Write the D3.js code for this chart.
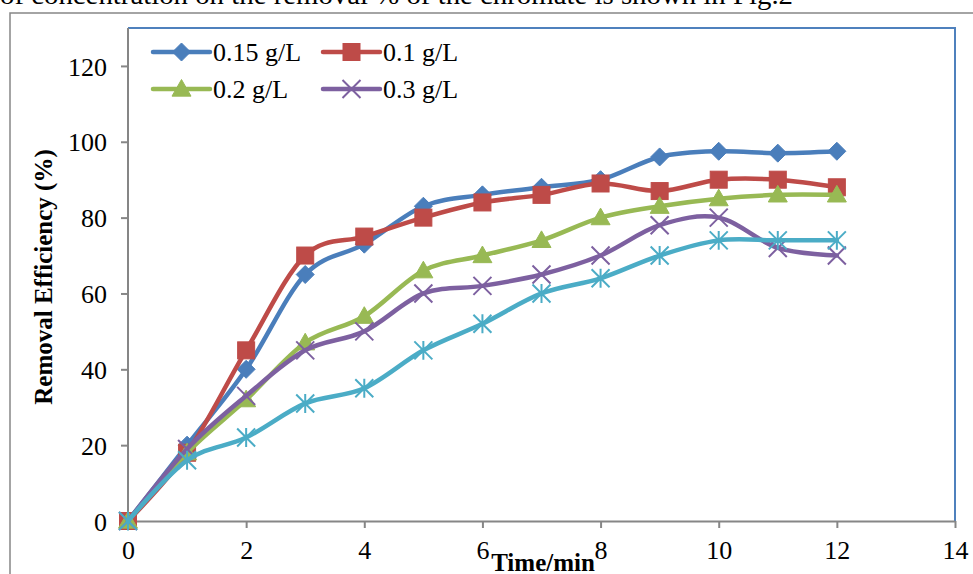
<!DOCTYPE html>
<html>
<head>
<meta charset="utf-8">
<script src="https://cdn.jsdelivr.net/npm/d3@7"></script>
<style>
  html, body { margin: 0; padding: 0; background: #fff; overflow: hidden; }
  svg { display: block; }
  text { font-family: "Liberation Serif", "Times New Roman", serif; }
</style>
</head>
<body>
<svg id="chart" width="973" height="574"></svg>
<script>
// ---- data ----
const times = [0, 1, 2, 3, 4, 5, 6, 7, 8, 9, 10, 11, 12];
const s015 = [0, 20, 40, 65, 73, 83, 86, 88, 90, 96, 97.5, 97, 97.5];
const s010 = [0, 18, 45, 70, 75, 80, 84, 86, 89, 87, 90, 90, 88];
const s020 = [0, 18, 32, 47, 54, 66, 70, 74, 80, 83, 85, 86, 86];
const s030 = [0, 19, 33, 45, 50, 60, 62, 65, 70, 78, 80, 72, 70];
const s040 = [0, 16, 22, 31, 35, 45, 52, 60, 64, 70, 74, 74, 74];
const seriesNames = ["0.15 g/L", "0.1 g/L", "0.2 g/L", "0.3 g/L", "series 5"];
const legendNames = ["0.15 g/L", "0.1 g/L", "0.2 g/L", "0.3 g/L"];
const xTicks = [0, 2, 4, 6, 8, 10, 12, 14];
const yTicks = [0, 20, 40, 60, 80, 100, 120];
const xTitle = "Time/min";
const yTitle = "Removal Efficiency (%)";
const captionText = "of concentration on the removal % of the chromate is shown in Fig.2";

const seriesValues = [s015, s010, s020, s030, s040];
const colors = ["#4A7EBB", "#BE4B48", "#98B954", "#7D60A0", "#4BACC6"];
const markers = ["diamond", "square", "triangle", "x", "star"];

const svg = d3.select("#chart");
const x = d3.scaleLinear().domain([0, 14]).range([128, 955]);
const y = d3.scaleLinear().domain([0, 130]).range([521, 28]);

// caption text (cut at top)
svg.append("text").attr("x", 0).attr("y", 4)
  .attr("font-size", 28).attr("fill", "#000")
  .attr("textLength", 793).attr("lengthAdjust", "spacingAndGlyphs").text(captionText);

// outer chart border
svg.append("rect").attr("x", 10).attr("y", 13).attr("width", 1000).attr("height", 600)
  .attr("fill", "none").attr("stroke", "#868686").attr("stroke-width", 1.5);

// plot area border (blue)
svg.append("path")
  .attr("d", `M${x(0)},${y(130)} H${x(14)} V${y(0)}`)
  .attr("fill", "none").attr("stroke", "#4F81BD").attr("stroke-width", 2);

// axes
const xAxis = d3.axisBottom(x).tickValues(xTicks).tickSize(7).tickSizeOuter(0).tickPadding(13)
  .tickFormat(d3.format("d"));
const yAxis = d3.axisLeft(y).tickValues(yTicks).tickSize(7).tickSizeOuter(0).tickPadding(14)
  .tickFormat(d3.format("d"));

const gx = svg.append("g").attr("transform", `translate(0,${y(0)})`).call(xAxis);
const gy = svg.append("g").attr("transform", `translate(${x(0)},0)`).call(yAxis);
[gx, gy].forEach(g => {
  g.select(".domain").attr("stroke", "#868686").attr("stroke-width", 2);
  g.selectAll(".tick line").attr("stroke", "#868686").attr("stroke-width", 2);
  g.selectAll(".tick text").attr("font-size", 26).attr("fill", "#000")
    .attr("font-family", "Liberation Serif, Times New Roman, serif");
});
gy.select(".domain").attr("d", `M0,${y(130)}V${y(0)}`);
gx.selectAll(".tick text").attr("dy", "0.71em");
gy.selectAll(".tick text").attr("dy", "0.35em");

// axis titles
svg.append("text").attr("x", 543).attr("y", 571).attr("text-anchor", "middle")
  .attr("font-size", 25).attr("font-weight", "bold").text(xTitle);
svg.append("text").attr("transform", `translate(52,277) rotate(-90)`)
  .attr("text-anchor", "middle").attr("font-size", 25).attr("font-weight", "bold").text(yTitle);

// marker drawer
function drawMarker(g, type, cx, cy, color) {
  if (type === "diamond") {
    const r = 9;
    g.append("path").attr("d", `M${cx},${cy - r}L${cx + r},${cy}L${cx},${cy + r}L${cx - r},${cy}Z`)
      .attr("fill", color).attr("stroke", color).attr("stroke-width", 1);
  } else if (type === "square") {
    const r = 8.5;
    g.append("rect").attr("x", cx - r).attr("y", cy - r).attr("width", 2 * r).attr("height", 2 * r)
      .attr("fill", color).attr("stroke", color).attr("stroke-width", 1);
  } else if (type === "triangle") {
    const r = 9.5;
    g.append("path").attr("d", `M${cx},${cy - r}L${cx + r},${cy + r * 0.75}L${cx - r},${cy + r * 0.75}Z`)
      .attr("fill", color).attr("stroke", color).attr("stroke-width", 1);
  } else if (type === "x") {
    const r = 9;
    g.append("path").attr("d", `M${cx - r},${cy - r}L${cx + r},${cy + r}M${cx - r},${cy + r}L${cx + r},${cy - r}`)
      .attr("fill", "none").attr("stroke", color).attr("stroke-width", 2);
  } else if (type === "star") {
    const r = 9;
    g.append("path").attr("d", `M${cx - r},${cy - r}L${cx + r},${cy + r}M${cx - r},${cy + r}L${cx + r},${cy - r}M${cx},${cy - r * 1.05}L${cx},${cy + r * 1.05}`)
      .attr("fill", "none").attr("stroke", color).attr("stroke-width", 2);
  }
}

// series
const line = d3.line().x(d => x(d[0])).y(d => y(d[1])).curve(d3.curveCardinal.tension(0));
seriesValues.forEach((vals, i) => {
  const pts = times.map((t, j) => [t, vals[j]]);
  const g = svg.append("g").attr("class", "series").attr("data-name", seriesNames[i]);
  g.append("path").datum(pts).attr("d", line)
    .attr("fill", "none").attr("stroke", colors[i]).attr("stroke-width", 4.5)
    .attr("stroke-linejoin", "round").attr("stroke-linecap", "round");
  pts.forEach(p => drawMarker(g, markers[i], x(p[0]), y(p[1]), colors[i]));
});

// legend
const legendPos = [[153, 52], [323, 52], [153, 89], [323, 89]];
legendNames.forEach((name, i) => {
  const [lx, ly] = legendPos[i];
  const g = svg.append("g").attr("class", "legend-item");
  g.append("line").attr("x1", lx).attr("x2", lx + 57).attr("y1", ly).attr("y2", ly)
    .attr("stroke", colors[i]).attr("stroke-width", 4.5).attr("stroke-linecap", "round");
  drawMarker(g, markers[i], lx + 28.5, ly, colors[i]);
  g.append("text").attr("x", lx + 60).attr("y", ly).attr("dy", "0.33em")
    .attr("font-size", 26).attr("fill", "#000").text(name);
});
</script>
</body>
</html>
